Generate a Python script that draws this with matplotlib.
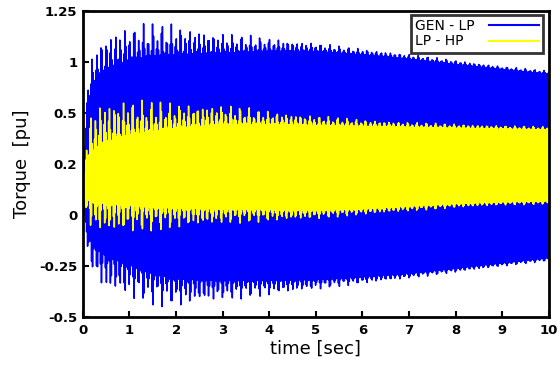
import numpy as np
import matplotlib.pyplot as plt

# envelope read points (sec)
t_env = [0, 0.1, 0.25, 0.5, 1, 1.5, 2, 3, 4, 5, 6, 7, 8, 9, 10]

# GEN - LP shaft torque: dense band edges and extra spike heights
gen_lp_top = [0.25, 0.72, 0.85, 0.92, 0.97, 0.99, 1.00, 1.01, 1.02, 1.02, 1.00, 0.975, 0.945, 0.915, 0.89]
gen_lp_bot = [0.15, -0.03, -0.10, -0.15, -0.20, -0.25, -0.28, -0.29, -0.29, -0.285, -0.27, -0.25, -0.22, -0.19, -0.16]
gen_lp_spike_up = [0.0, 0.14, 0.22, 0.22, 0.21, 0.20, 0.18, 0.12, 0.08, 0.05, 0.035, 0.03, 0.025, 0.02, 0.02]
gen_lp_spike_dn = [0.0, 0.12, 0.20, 0.22, 0.20, 0.19, 0.17, 0.12, 0.09, 0.06, 0.04, 0.03, 0.025, 0.02, 0.02]

# LP - HP shaft torque
lp_hp_top = [0.25, 0.40, 0.46, 0.50, 0.54, 0.56, 0.58, 0.60, 0.60, 0.595, 0.59, 0.585, 0.58, 0.575, 0.57]
lp_hp_bot = [0.20, 0.17, 0.16, 0.15, 0.14, 0.13, 0.125, 0.12, 0.115, 0.11, 0.12, 0.135, 0.15, 0.16, 0.165]
lp_hp_spike_up = [0.0, 0.22, 0.28, 0.26, 0.22, 0.18, 0.15, 0.12, 0.08, 0.06, 0.04, 0.03, 0.025, 0.02, 0.02]
lp_hp_spike_dn = [0.0, 0.14, 0.18, 0.18, 0.16, 0.14, 0.12, 0.09, 0.07, 0.05, 0.035, 0.03, 0.025, 0.02, 0.02]

f_gen_lp = 47.0   # Hz, torsional mode
f_lp_hp = 53.0
f_beat = 10.0     # Hz, spike repetition

ytick_labels = ['-0.5', '-0.25', '0', '0.2', '0.5', '1', '1.25']
xticks = list(range(0, 11))


def torque(top, bot, up, dn, f, shift):
    t = np.linspace(0, 10, 40001)
    hi = np.interp(t, t_env, top)
    lo = np.interp(t, t_env, bot)
    mid = (hi + lo) / 2
    half = (hi - lo) / 2
    c = np.sin(2 * np.pi * f * t)
    pulse = np.abs(np.cos(np.pi * f_beat * (t + shift))) ** 4
    vary = 0.45 + 0.55 * np.cos(np.pi * 5 * (t + shift) + 0.3 + 0.8 * t) ** 2
    sp = np.where(c > 0, np.interp(t, t_env, up), np.interp(t, t_env, dn))
    return t, mid + (half + sp * pulse * vary) * c


fig = plt.figure(figsize=(5.6, 3.73), dpi=100)
ax = fig.add_axes([0.148, 0.150, 0.832, 0.820])

t1, y1 = torque(gen_lp_top, gen_lp_bot, gen_lp_spike_up, gen_lp_spike_dn, f_gen_lp, 0.0)
t2, y2 = torque(lp_hp_top, lp_hp_bot, lp_hp_spike_up, lp_hp_spike_dn, f_lp_hp, 0.03)
ax.plot(t1, y1, color='#0000ff', lw=1.1, label='GEN - LP')
ax.plot(t2, y2, color='#ffff00', lw=1.1, label='LP - HP')

ax.set_xlim(0, 10)
ax.set_ylim(-0.5, 1.25)
ax.set_xticks(xticks)
ax.set_yticks(np.linspace(-0.5, 1.25, 7))
ax.set_yticklabels(ytick_labels)
for lab in ax.get_xticklabels() + ax.get_yticklabels():
    lab.set_fontweight('bold')
ax.tick_params(direction='in', length=4.5, width=1.5, labelsize=9.5, pad=4)
ax.tick_params(axis='x', pad=5)
for s in ax.spines.values():
    s.set_linewidth(2.0)

ax.set_xlabel('time [sec]', fontsize=13, labelpad=2)
ax.set_ylabel('Torque  [pu]', fontsize=13, labelpad=6)

leg = ax.legend(loc='upper right', bbox_to_anchor=(0.987, 0.988), borderaxespad=0,
                markerfirst=False, fancybox=False, fontsize=10, handlelength=3.6,
                labelspacing=0.1, borderpad=0.3, handletextpad=1.0)
leg.get_frame().set_edgecolor('black')
leg.get_frame().set_linewidth(2.0)
for h in leg.get_lines():
    h.set_linewidth(1.5)

# left-align the labels while keeping the sample lines in one column
fig.canvas.draw()
r = fig.canvas.get_renderer()
widths = [txt.get_window_extent(r).width for txt in leg.get_texts()]
col = leg._legend_handle_box.get_children()[0]
col.align = 'left'
for row, w in zip(col.get_children(), widths):
    row.sep += (max(widths) - w) * 72 / fig.dpi

fig.savefig('out.png', dpi=100)
